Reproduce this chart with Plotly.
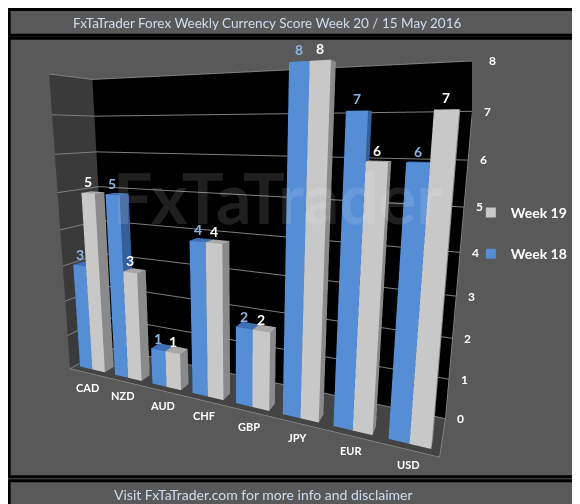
import plotly.graph_objects as go

# Weekly currency scores
currencies = ["CAD", "NZD", "AUD", "CHF", "GBP", "JPY", "EUR", "USD"]
week18 = [3, 5, 1, 4, 2, 8, 7, 6]
week19 = [5, 3, 1, 4, 2, 8, 6, 7]
score_ticks = [0, 1, 2, 3, 4, 5, 6, 7, 8]

BG = "#595959"
FONT = "Lato"

# bar geometry in scene units (one unit per currency)
BAR_W = 0.36
BAR_D = 0.3
Y0 = 0.18
DEPTH = 1.3
GAP = 0.13


def boxes(values, offset, front, side, top):
    xs, ys, zs, ii, jj, kk, fc = [], [], [], [], [], [], []
    for n, v in enumerate(values):
        x0 = n + offset
        x1 = x0 + BAR_W
        y0, y1 = Y0, Y0 + BAR_D
        b = len(xs)
        for (x, y, z) in [(x0, y0, 0), (x1, y0, 0), (x1, y1, 0), (x0, y1, 0),
                          (x0, y0, v), (x1, y0, v), (x1, y1, v), (x0, y1, v)]:
            xs.append(x)
            ys.append(y)
            zs.append(z)
        faces = [
            ((0, 1, 5), front), ((0, 5, 4), front),
            ((1, 2, 6), side), ((1, 6, 5), side),
            ((4, 5, 6), top), ((4, 6, 7), top),
            ((0, 3, 7), side), ((0, 7, 4), side),
            ((3, 2, 6), front), ((3, 6, 7), front),
            ((0, 1, 2), side), ((0, 2, 3), side),
        ]
        for (a, c, d), col in faces:
            ii.append(b + a)
            jj.append(b + c)
            kk.append(b + d)
            fc.append(col)
    return go.Mesh3d(x=xs, y=ys, z=zs, i=ii, j=jj, k=kk, facecolor=fc,
                     flatshading=True, hoverinfo="skip", showlegend=False,
                     lighting=dict(ambient=1, diffuse=0, specular=0,
                                   roughness=1, fresnel=0))


fig = go.Figure()
fig.add_trace(boxes(week18, GAP, "#558ED5", "#365F99", "#3F6FB5"))
fig.add_trace(boxes(week19, GAP + BAR_W, "#C8C8C8", "#8A8A8A", "#A8A8A8"))

# floor front edge and value axis edge
n_cat = len(currencies)
fig.add_trace(go.Scatter3d(x=[0, n_cat, n_cat, None, n_cat, n_cat],
                           y=[0, 0, DEPTH, None, DEPTH, DEPTH],
                           z=[0, 0, 0, None, 0, score_ticks[-1]],
                           mode="lines", line=dict(color="#8C8C8C", width=1.5),
                           hoverinfo="skip", showlegend=False))

# legend entries
fig.add_trace(go.Scatter3d(x=[None], y=[None], z=[None], mode="markers",
                           name="<b>Week 19</b>", legendgroup="w19",
                           marker=dict(symbol="square", size=10, color="#C8C8C8",
                                       line=dict(width=0))))
fig.add_trace(go.Scatter3d(x=[None], y=[None], z=[None], mode="markers",
                           name="<b>Week 18</b>", legendgroup="w18",
                           marker=dict(symbol="square", size=10, color="#558ED5",
                                       line=dict(width=0))))

ann = []
for n, name in enumerate(currencies):
    ann.append(dict(x=n + 0.5, y=0, z=0, text="<b>%s</b>" % name, showarrow=False,
                    yanchor="top", yshift=-6,
                    font=dict(family=FONT, size=11, color="white")))
    ann.append(dict(x=n + GAP + BAR_W / 2, y=Y0, z=week18[n],
                    text="<b>%d</b>" % week18[n], showarrow=False, yanchor="bottom",
                    yshift=1, font=dict(family=FONT, size=14, color="#8DB4E2")))
    ann.append(dict(x=n + GAP + 1.5 * BAR_W, y=Y0, z=week19[n],
                    text="<b>%d</b>" % week19[n], showarrow=False, yanchor="bottom",
                    yshift=1, font=dict(family=FONT, size=14, color="white")))
for t in score_ticks:
    ann.append(dict(x=n_cat, y=DEPTH, z=t, text="<b>%d</b>" % t,
                    showarrow=False, xanchor="left", xshift=10,
                    font=dict(family=FONT, size=12, color="white")))

blank = dict(title=dict(text=""), showticklabels=False, showgrid=False,
             zeroline=False, showspikes=False, ticks="")

fig.update_layout(
    width=580, height=504,
    margin=dict(l=0, r=0, t=0, b=0),
    paper_bgcolor=BG,
    font=dict(family=FONT, color="white"),
    showlegend=True,
    legend=dict(x=0.798, y=0.625, xanchor="left", yanchor="top",
                bgcolor="rgba(0,0,0,0)", tracegroupgap=20,
                font=dict(family=FONT, size=14, color="white")),
    scene=dict(
        domain=dict(x=[0.0, 0.8], y=[0.105, 0.975]),
        bgcolor=BG,
        aspectmode="manual",
        aspectratio=dict(x=1.12, y=0.186, z=0.91),
        camera=dict(eye=dict(x=0.6, y=-1.3, z=0.3),
                    center=dict(x=0, y=0, z=0)),
        xaxis=dict(blank, range=[0, n_cat], showbackground=True,
                   backgroundcolor="#3A3A3A"),
        yaxis=dict(blank, range=[0, DEPTH], showbackground=True,
                   backgroundcolor="#000000"),
        zaxis=dict(blank, range=[0, score_ticks[-1]], showbackground=True,
                   backgroundcolor="#444444", showgrid=True,
                   gridcolor="#7F7F7F", tickvals=score_ticks),
        annotations=ann,
    ),
    annotations=[
        dict(x=0.448, y=0.97, xref="paper", yref="paper", showarrow=False,
             text="FxTaTrader Forex Weekly Currency Score Week 20 / 15 May 2016",
             yanchor="middle", font=dict(family=FONT, size=13.5, color="#CDDDF0")),
        dict(x=0.44, y=0.035, xref="paper", yref="paper", showarrow=False,
             text="Visit FxTaTrader.com for more info and disclaimer",
             yanchor="middle", font=dict(family=FONT, size=14, color="#CDDDF0")),
        dict(x=0.465, y=0.625, xref="paper", yref="paper", showarrow=False,
             text="<b>FxTaTrader</b>",
             font=dict(family=FONT, size=70, color="rgba(255,255,255,0.12)")),
    ],
    shapes=[
        dict(type="rect", xref="paper", yref="paper", x0=0.002, x1=0.997,
             y0=0.946, y1=0.997, line=dict(color="black", width=3)),
        dict(type="rect", xref="paper", yref="paper", x0=0.002, x1=0.997,
             y0=0.07, y1=0.94, line=dict(color="black", width=3)),
        dict(type="rect", xref="paper", yref="paper", x0=0.002, x1=0.997,
             y0=0.008, y1=0.062, line=dict(color="black", width=3)),
    ],
)

fig.write_html("out.html")
